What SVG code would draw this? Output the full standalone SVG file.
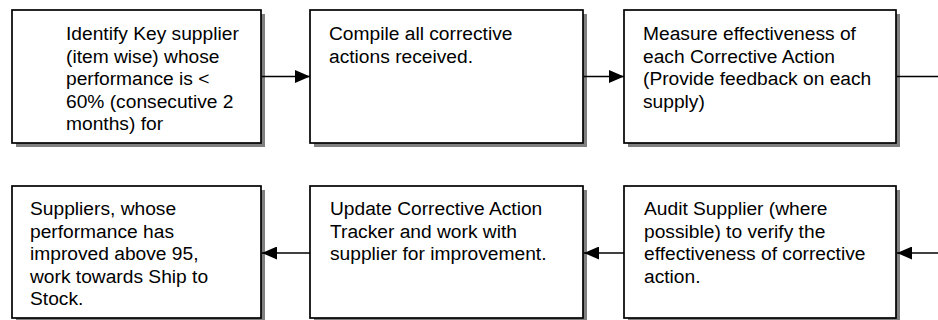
<svg xmlns="http://www.w3.org/2000/svg" width="938" height="320" viewBox="0 0 938 320">
<style>
  .shadow { fill: #808080; stroke: none; }
  .box { fill: #ffffff; stroke: #000000; stroke-width: 1.7; }
  .lbl { font-family: "Liberation Sans", Arial, sans-serif; font-size: 19.2px; fill: #000000; }
  .conn { stroke: #000000; stroke-width: 1.6; fill: none; }
</style>
<defs>
  <marker id="arrow" markerUnits="userSpaceOnUse" markerWidth="15" markerHeight="13" refX="15" refY="6.5" orient="auto">
    <path d="M0,0 L15,6.5 L0,13 Z" fill="#000000"/>
  </marker>
</defs>
<rect width="938" height="320" fill="#ffffff"/>

<g id="node-identify">
  <rect class="shadow" x="16" y="14" width="249" height="133"/>
  <rect class="box" x="12" y="10" width="249" height="133"/>
  <text class="lbl">
    <tspan x="66" y="40">Identify Key supplier</tspan>
    <tspan x="66" y="62.5">(item wise) whose</tspan>
    <tspan x="66" y="85">performance is &lt;</tspan>
    <tspan x="66" y="107.5">60% (consecutive 2</tspan>
    <tspan x="66" y="130">months) for</tspan>
  </text>
</g>

<g id="node-compile">
  <rect class="shadow" x="314" y="14" width="273" height="133"/>
  <rect class="box" x="310" y="10" width="273" height="133"/>
  <text class="lbl">
    <tspan x="329" y="40">Compile all corrective</tspan>
    <tspan x="329" y="62.5">actions received.</tspan>
  </text>
</g>

<g id="node-measure">
  <rect class="shadow" x="628" y="14" width="272" height="133"/>
  <rect class="box" x="624" y="10" width="272" height="133"/>
  <text class="lbl">
    <tspan x="643" y="40">Measure effectiveness of</tspan>
    <tspan x="643" y="62.5">each Corrective Action</tspan>
    <tspan x="643" y="85">(Provide feedback on each</tspan>
    <tspan x="643" y="107.5">supply)</tspan>
  </text>
</g>

<g id="node-suppliers">
  <rect class="shadow" x="16" y="190" width="249" height="132"/>
  <rect class="box" x="12" y="186" width="249" height="132"/>
  <text class="lbl">
    <tspan x="30" y="215">Suppliers, whose</tspan>
    <tspan x="30" y="237.5">performance has</tspan>
    <tspan x="30" y="260">improved above 95,</tspan>
    <tspan x="30" y="282.5">work towards Ship to</tspan>
    <tspan x="30" y="305">Stock.</tspan>
  </text>
</g>

<g id="node-update">
  <rect class="shadow" x="314" y="190" width="273" height="132"/>
  <rect class="box" x="310" y="186" width="273" height="132"/>
  <text class="lbl">
    <tspan x="330" y="215">Update Corrective Action</tspan>
    <tspan x="330" y="237.5">Tracker and work with</tspan>
    <tspan x="330" y="260">supplier for improvement.</tspan>
  </text>
</g>

<g id="node-audit">
  <rect class="shadow" x="628" y="190" width="272" height="132"/>
  <rect class="box" x="624" y="186" width="272" height="132"/>
  <text class="lbl">
    <tspan x="644" y="215">Audit Supplier (where</tspan>
    <tspan x="644" y="237.5">possible) to verify the</tspan>
    <tspan x="644" y="260">effectiveness of corrective</tspan>
    <tspan x="644" y="282.5">action.</tspan>
  </text>
</g>

<g id="connectors">
  <line class="conn" x1="262" y1="76.5" x2="310" y2="76.5" marker-end="url(#arrow)"/>
  <line class="conn" x1="584" y1="76.5" x2="624" y2="76.5" marker-end="url(#arrow)"/>
  <line class="conn" x1="897" y1="76.5" x2="938" y2="76.5"/>
  <line class="conn" x1="938" y1="253" x2="897" y2="253" marker-end="url(#arrow)"/>
  <line class="conn" x1="624" y1="253" x2="584" y2="253" marker-end="url(#arrow)"/>
  <line class="conn" x1="310" y1="253" x2="262" y2="253" marker-end="url(#arrow)"/>
</g>
</svg>
